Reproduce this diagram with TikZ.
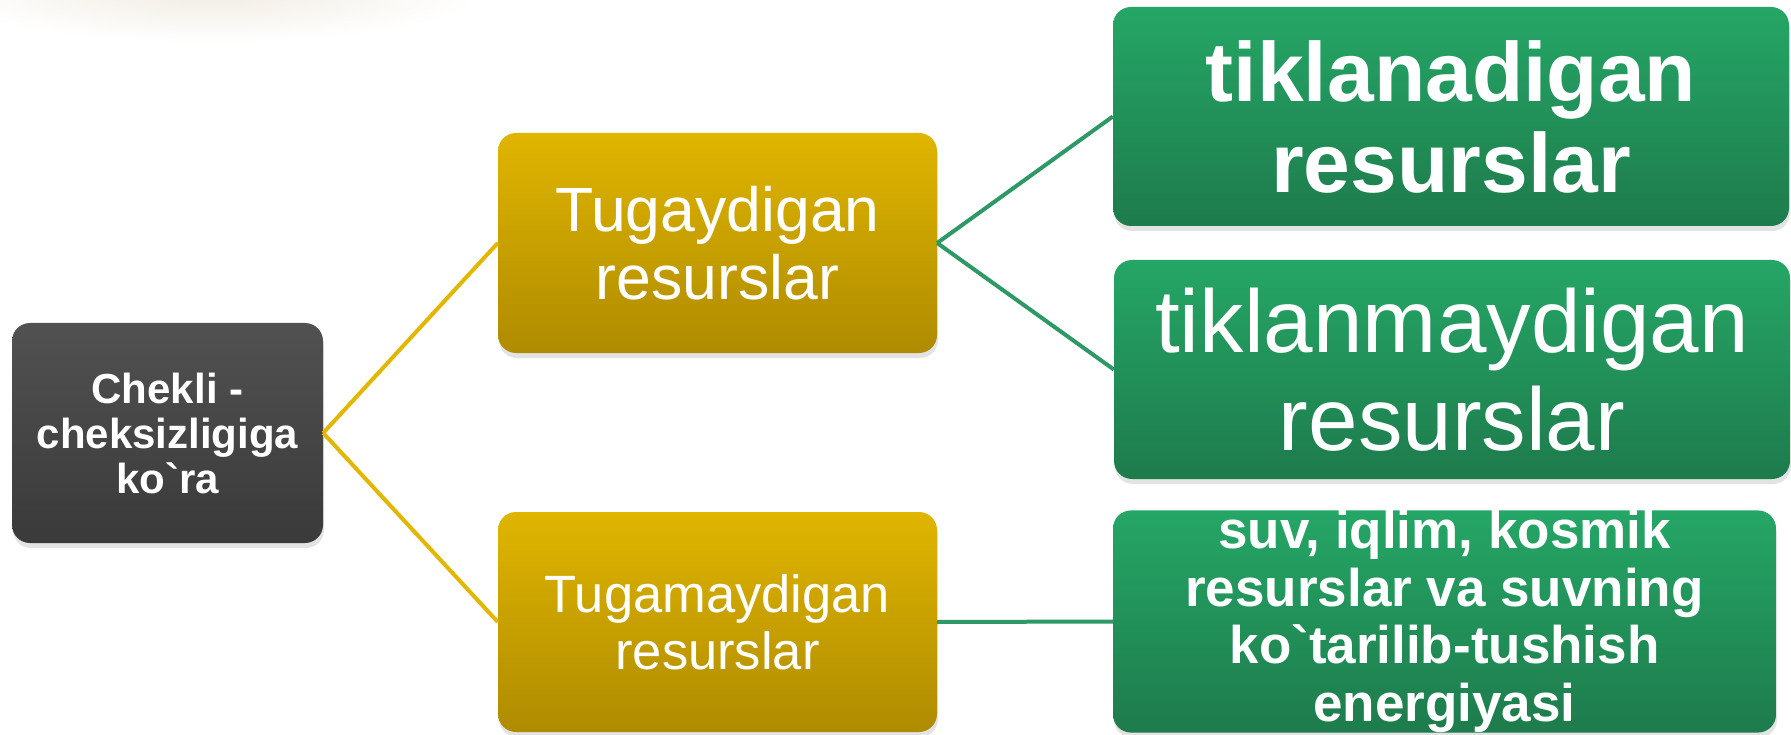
\documentclass[tikz,border=0pt]{standalone}
\usepackage{fontspec}
\setmainfont{Liberation Sans}
\newfontfamily\nomap{Liberation Sans}
\usetikzlibrary{shadows}
\newcommand\grv{{\nomap\char96}}
\definecolor{darkT}{HTML}{515151}
\definecolor{darkB}{HTML}{3A3A3A}
\definecolor{yelT}{HTML}{E0B500}
\definecolor{yelB}{HTML}{AF8B00}
\definecolor{grnT}{HTML}{25A666}
\definecolor{grnB}{HTML}{1E7B4C}
\definecolor{yelLine}{HTML}{E3B700}
\definecolor{grnLine}{HTML}{2E9966}
\definecolor{blurC}{HTML}{F1ECE3}
\tikzset{
  boxbase/.style={rounded corners=18pt, inner sep=0pt, align=center, text=white,
    drop shadow={opacity=0.22, shadow xshift=1pt, shadow yshift=-5pt}},
  darkbox/.style={boxbase, top color=darkT, bottom color=darkB},
  yelbox/.style={boxbase, top color=yelT, bottom color=yelB},
  grnbox/.style={boxbase, top color=grnT, bottom color=grnB},
  yelconn/.style={draw=yelLine, line width=4pt},
  grnconn/.style={draw=grnLine, line width=4pt},
}
\begin{document}
\begin{tikzpicture}[x=1pt,y=-1pt]
\useasboundingbox (0,0) rectangle (1791,735);
\fill[white] (0,0) rectangle (1791,735);
% faint blur at the top left
\shade[inner color=blurC, outer color=white] (210,-8) ellipse [x radius=270, y radius=50];

\node[darkbox, minimum width=311pt, minimum height=220pt,
  font=\fontsize{42}{45}\selectfont\bfseries] (root) at (167.5,433)
  {Chekli -\\cheksizligiga\\ko\grv ra};

\node[yelbox, minimum width=439pt, minimum height=220pt,
  font=\fontsize{62.5}{68}\selectfont] (tug) at (717.5,243)
  {Tugaydigan\\resurslar};
\node[yelbox, minimum width=439pt, minimum height=220pt,
  font=\fontsize{52.5}{57}\selectfont] (tugm) at (717.5,622)
  {Tugamaydigan\\resurslar};

\node[grnbox, minimum width=676pt, minimum height=219pt,
  font=\fontsize{84}{91}\selectfont\bfseries] (tik) at (1451,116.5)
  {tiklanadigan\\resurslar};
\node[grnbox, minimum width=676pt, minimum height=219pt,
  font=\fontsize{89}{98}\selectfont] (tikm) at (1452,369.5)
  {tiklanmaydigan\\resurslar};
\node[grnbox, minimum width=663pt, minimum height=219pt,
  font=\fontsize{53}{57.5}\selectfont\bfseries] (suv) at (1444.5,621.5)
  {suv, iqlim, kosmik\\resurslar va suvning\\ko\grv tarilib-tushish\\energiyasi};

\draw[yelconn] (root.east) -- (tug.west);
\draw[yelconn] (root.east) -- (tugm.west);
\draw[grnconn] (tug.east) -- (tik.west);
\draw[grnconn] (tug.east) -- (tikm.west);
\draw[grnconn] (tugm.east) -- (suv.west);
\end{tikzpicture}
\end{document}
